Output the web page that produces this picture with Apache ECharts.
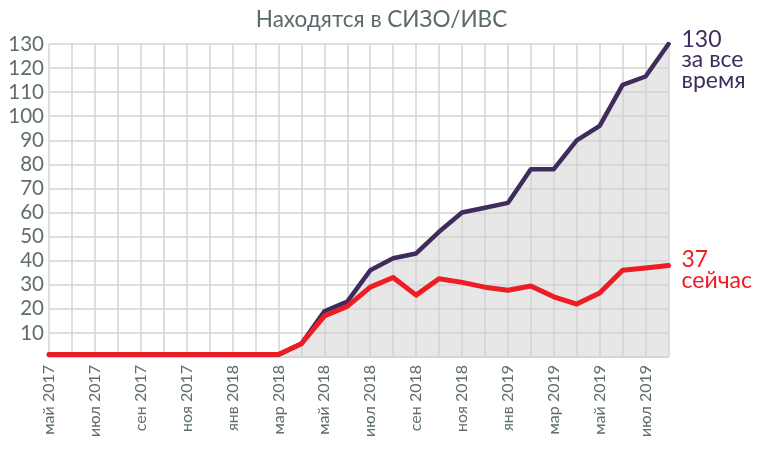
<!DOCTYPE html>
<html>
<head>
<meta charset="utf-8">
<script src="https://cdn.jsdelivr.net/npm/echarts@6/dist/echarts.min.js"></script>
<style>html,body{margin:0;padding:0;background:#fff}#c{width:763px;height:450px}</style>
</head>
<body>
<div id="c"></div>
<script>
const title = "Находятся в СИЗО/ИВС";
const months = ["май 2017","июн 2017","июл 2017","авг 2017","сен 2017","окт 2017","ноя 2017","дек 2017",
  "янв 2018","фев 2018","мар 2018","апр 2018","май 2018","июн 2018","июл 2018","авг 2018","сен 2018",
  "окт 2018","ноя 2018","дек 2018","янв 2019","фев 2019","мар 2019","апр 2019","май 2019","июн 2019",
  "июл 2019","авг 2019"];
const totalAllTime = [1,1,1,1,1,1,1,1,1,1,1,5.5,19,23,36,41,43,52,60,62,64,78,78,90,96,113,116.5,130];
const currentNow  = [1,1,1,1,1,1,1,1,1,1,1,5.5,17,21,29,33,25.7,32.5,31,29,27.7,29.5,25,22,26.6,36,37,38];
const totalLabel = ["130","за все","время"];
const currentLabel = ["37","сейчас"];
const yTicks = [0,10,20,30,40,50,60,70,80,90,100,110,120,130];

const font = "Lato";
const chart = echarts.init(document.getElementById('c'), null, {renderer:'canvas'});
chart.setOption({
  animation:false,
  backgroundColor:'#ffffff',
  textStyle:{fontFamily:font},
  title:{text:title,left:'center',top:3,textStyle:{fontFamily:font,fontSize:22.5,fontWeight:'normal',color:'#5b6a6b'}},
  grid:{left:49,right:94.5,top:44,bottom:93},
  xAxis:{
    type:'category',data:months,boundaryGap:false,z:2,
    axisLine:{show:true,lineStyle:{color:'#d3d3d3',width:1}},
    axisTick:{show:false},
    axisLabel:{interval:1,rotate:90,fontFamily:font,fontSize:16,color:'#5f6d6e',margin:8},
    splitLine:{show:true,interval:0,lineStyle:{color:'#d3d3d3',width:1.5}}
  },
  yAxis:{
    type:'value',min:yTicks[0],max:yTicks[yTicks.length-1],interval:10,z:2,
    axisLine:{show:false},axisTick:{show:false},
    axisLabel:{fontFamily:font,fontSize:20.5,color:'#5f6d6e',margin:5,
      formatter:v=>v===0?'':String(v)},
    splitLine:{show:true,lineStyle:{color:'#d3d3d3',width:1.5}}
  },
  series:[
    {type:'line',data:totalAllTime,z:1,symbol:'none',silent:true,
     lineStyle:{width:0},areaStyle:{color:'#e6e7e6',opacity:1}},
    {type:'line',data:totalAllTime,z:3,symbol:'none',
     lineStyle:{color:'#3f2c5c',width:4.5,cap:'round',join:'round'},
     endLabel:{show:true,formatter:()=>totalLabel.join('\n'),color:'#3f2c5c',fontFamily:font,fontSize:23,
       lineHeight:20.5,align:'left',verticalAlign:'top',distance:13,offset:[0,-15]}},
    {type:'line',data:currentNow,z:4,symbol:'none',
     lineStyle:{color:'#ee1c25',width:5,cap:'round',join:'round'},
     endLabel:{show:true,formatter:()=>currentLabel.join('\n'),color:'#ee1c25',fontFamily:font,fontSize:23,
       lineHeight:21,align:'left',verticalAlign:'top',distance:13,offset:[0,-16]}}
  ]
});
</script>
</body>
</html>
